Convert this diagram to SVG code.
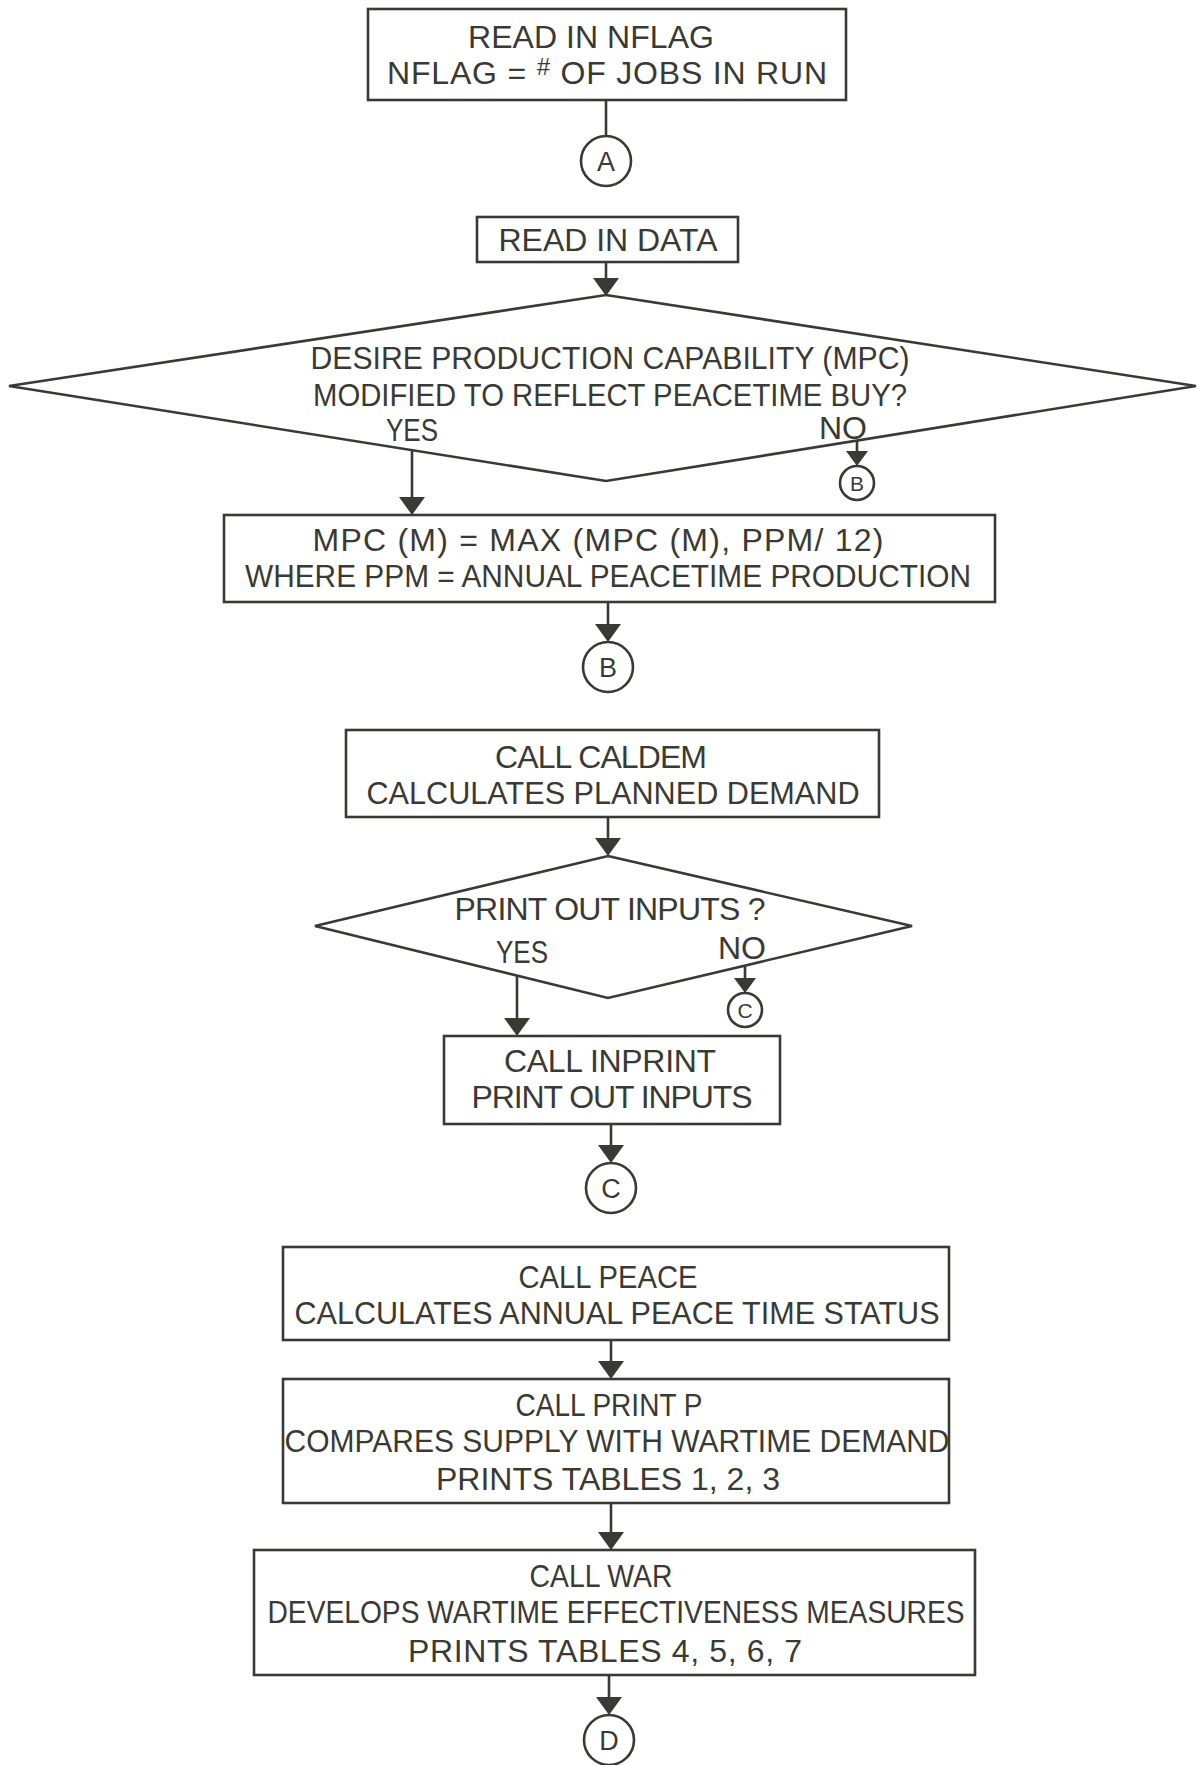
<svg xmlns="http://www.w3.org/2000/svg" width="1198" height="1765" viewBox="0 0 1198 1765">
  <style>
    .box { fill: #ffffff; stroke: #3a3a34; stroke-width: 2.6; }
    .conn { fill: none; stroke: #3a3a34; stroke-width: 2.6; }
    .head { fill: #3a3a34; }
    .t { font-family: "Liberation Sans", Arial, sans-serif; font-size: 32px; fill: #3a3a34; text-anchor: middle; }
    .sq { font-family: "Liberation Sans", Arial, sans-serif; font-size: 32px; fill: #3a3a34; text-anchor: middle; }
    .c { font-family: "Liberation Sans", Arial, sans-serif; font-size: 27px; fill: #3a3a34; text-anchor: middle; }
    .cs { font-family: "Liberation Sans", Arial, sans-serif; font-size: 21px; fill: #3a3a34; text-anchor: middle; }
  </style>
  <rect width="1198" height="1765" fill="#ffffff"/>

  <!-- flow lines with filled triangular heads -->
  <g id="connectors">
    <line class="conn" x1="606" y1="101" x2="606" y2="136"/>
    <path class="conn" d="M606,262 V290"/>
    <path class="conn" d="M412,450 V510"/>
    <path class="conn" d="M857,440 V462"/>
    <path class="conn" d="M608,602 V638"/>
    <path class="conn" d="M608,817 V852"/>
    <path class="conn" d="M517,976 V1031"/>
    <path class="conn" d="M745,965 V988"/>
    <path class="conn" d="M611,1124 V1158"/>
    <path class="conn" d="M611,1340 V1374"/>
    <path class="conn" d="M611,1503 V1545"/>
    <path class="conn" d="M609,1675 V1710"/>
    <polygon class="head" points="593,278 619,278 606,296"/>
    <polygon class="head" points="399,497 425,497 412,515"/>
    <polygon class="head" points="846,451 868,451 857,466"/>
    <polygon class="head" points="595,624 621,624 608,642"/>
    <polygon class="head" points="595,838 621,838 608,856"/>
    <polygon class="head" points="504,1018 530,1018 517,1036"/>
    <polygon class="head" points="734,978 756,978 745,993"/>
    <polygon class="head" points="598,1145 624,1145 611,1163"/>
    <polygon class="head" points="598,1361 624,1361 611,1379"/>
    <polygon class="head" points="598,1532 624,1532 611,1550"/>
    <polygon class="head" points="596,1697 622,1697 609,1715"/>
  </g>

  <g id="read-nflag">
    <rect class="box" x="368" y="9" width="478" height="91"/>
    <text class="t" x="591" y="48" textLength="246" lengthAdjust="spacing">READ IN NFLAG</text>
    <text class="t" x="607" y="84" textLength="440" lengthAdjust="spacing">NFLAG = <tspan font-size="24" dy="-9" font-style="italic">#</tspan><tspan dy="9"> OF JOBS IN RUN</tspan></text>
  </g>

  <g id="conn-a1">
    <circle class="box" cx="606" cy="161" r="25"/>
    <text class="c" x="606" y="171">A</text>
  </g>

  <g id="read-data">
    <rect class="box" x="477" y="217" width="261" height="45"/>
    <text class="t" x="608" y="251" textLength="219" lengthAdjust="spacing">READ IN DATA</text>
  </g>

  <g id="decision-mpc">
    <polygon class="box" points="606,295 1196,386 606,481 9,386"/>
    <text class="sq" x="610" y="369" textLength="599" lengthAdjust="spacingAndGlyphs">DESIRE PRODUCTION CAPABILITY (MPC)</text>
    <text class="sq" x="610" y="406" textLength="594" lengthAdjust="spacingAndGlyphs">MODIFIED TO REFLECT PEACETIME BUY?</text>
    <text class="sq" x="412" y="441" textLength="52" lengthAdjust="spacingAndGlyphs">YES</text>
    <text class="t" x="843" y="439">NO</text>
  </g>

  <g id="conn-b-small">
    <circle class="box" cx="857" cy="483" r="17"/>
    <text class="cs" x="857" y="491">B</text>
  </g>

  <g id="set-mpc">
    <rect class="box" x="224" y="515" width="771" height="87"/>
    <text class="t" x="598" y="551" textLength="571" lengthAdjust="spacing">MPC (M) = MAX (MPC (M), PPM/ 12)</text>
    <text class="sq" x="608" y="587" textLength="726" lengthAdjust="spacingAndGlyphs">WHERE PPM = ANNUAL PEACETIME PRODUCTION</text>
  </g>

  <g id="conn-b">
    <circle class="box" cx="608" cy="667" r="25"/>
    <text class="c" x="608" y="677">B</text>
  </g>

  <g id="call-caldem">
    <rect class="box" x="346" y="730" width="533" height="87"/>
    <text class="t" x="601" y="768" textLength="212" lengthAdjust="spacing">CALL CALDEM</text>
    <text class="sq" x="613" y="804" textLength="493" lengthAdjust="spacingAndGlyphs">CALCULATES PLANNED DEMAND</text>
  </g>

  <g id="decision-print">
    <polygon class="box" points="608,856 912,926 608,998 315,926"/>
    <text class="t" x="610" y="920" textLength="311" lengthAdjust="spacing">PRINT OUT INPUTS ?</text>
    <text class="sq" x="522" y="963" textLength="52" lengthAdjust="spacingAndGlyphs">YES</text>
    <text class="t" x="742" y="959">NO</text>
  </g>

  <g id="conn-c-small">
    <circle class="box" cx="745" cy="1010" r="17"/>
    <text class="cs" x="745" y="1018">C</text>
  </g>

  <g id="call-inprint">
    <rect class="box" x="444" y="1036" width="336" height="88"/>
    <text class="t" x="610" y="1072" textLength="212" lengthAdjust="spacing">CALL INPRINT</text>
    <text class="t" x="612" y="1108" textLength="281" lengthAdjust="spacing">PRINT OUT INPUTS</text>
  </g>

  <g id="conn-c">
    <circle class="box" cx="611" cy="1188" r="25"/>
    <text class="c" x="611" y="1198">C</text>
  </g>

  <g id="call-peace">
    <rect class="box" x="283" y="1247" width="666" height="93"/>
    <text class="sq" x="608" y="1288" textLength="179" lengthAdjust="spacingAndGlyphs">CALL PEACE</text>
    <text class="sq" x="617" y="1324" textLength="645" lengthAdjust="spacingAndGlyphs">CALCULATES ANNUAL PEACE TIME STATUS</text>
  </g>

  <g id="call-printp">
    <rect class="box" x="283" y="1379" width="666" height="124"/>
    <text class="sq" x="609" y="1416" textLength="187" lengthAdjust="spacingAndGlyphs">CALL PRINT P</text>
    <text class="sq" x="617" y="1452" textLength="665" lengthAdjust="spacingAndGlyphs">COMPARES SUPPLY WITH WARTIME DEMAND</text>
    <text class="t" x="608" y="1490" textLength="344" lengthAdjust="spacing">PRINTS TABLES 1, 2, 3</text>
  </g>

  <g id="call-war">
    <rect class="box" x="254" y="1550" width="721" height="125"/>
    <text class="sq" x="601" y="1587" textLength="143" lengthAdjust="spacingAndGlyphs">CALL WAR</text>
    <text class="sq" x="616" y="1623" textLength="697" lengthAdjust="spacingAndGlyphs">DEVELOPS WARTIME EFFECTIVENESS MEASURES</text>
    <text class="t" x="605" y="1662" textLength="394" lengthAdjust="spacing">PRINTS TABLES 4, 5, 6, 7</text>
  </g>

  <g id="conn-d">
    <circle class="box" cx="609" cy="1740" r="25"/>
    <text class="c" x="609" y="1750">D</text>
  </g>
</svg>
